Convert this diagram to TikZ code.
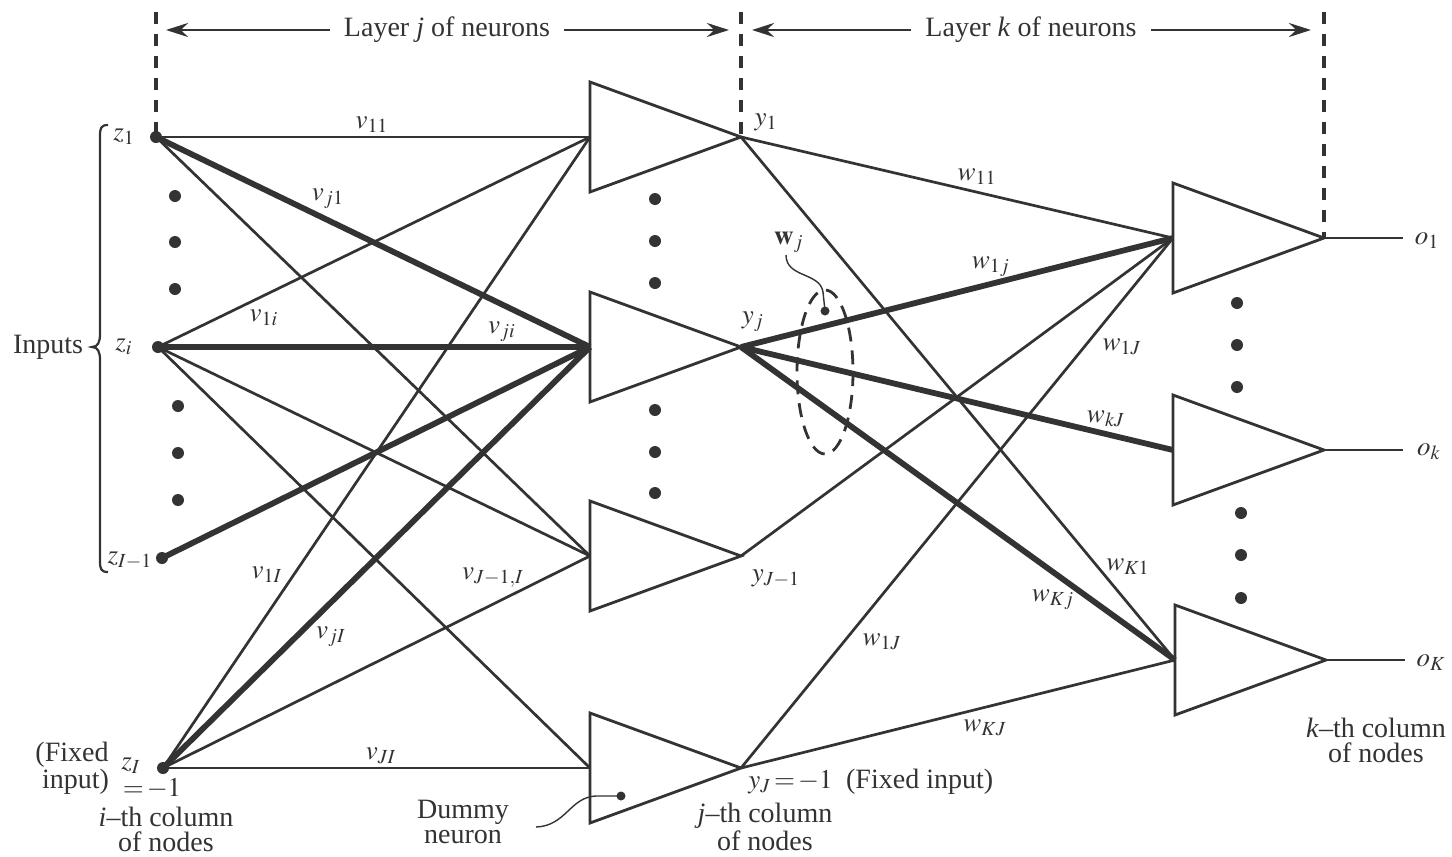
\documentclass[tikz,border=0pt]{standalone}
\usepackage{mathptmx}
\usepackage{fontspec}
\setmainfont{Liberation Serif}
\usetikzlibrary{arrows.meta}
\definecolor{ink}{HTML}{333333}

\begin{document}
\begin{tikzpicture}[x=0.5pt,y=-0.5pt,
  txt/.style={text=ink,font=\fontsize{14}{12.5}\selectfont,inner sep=1pt,align=center},
  lab/.style={text=ink,font=\fontsize{13.5}{14}\selectfont,inner sep=0pt},
  link/.style={draw=ink,line width=1.35pt},
  heavy/.style={draw=ink,line width=2.9pt},
  tri/.style={draw=ink,line width=1.4pt,line join=miter},
  guide/.style={draw=ink,line width=1.6pt,dash pattern=on 6pt off 5pt},
  ring/.style={draw=ink,line width=1.4pt,dash pattern=on 7pt off 4.5pt},
  span/.style={draw=ink,line width=1.2pt,-{Stealth[length=11pt,width=7pt]}},
  blob/.style={circle,fill=ink,inner sep=0pt,minimum size=6pt},
  pip/.style={circle,fill=ink,inner sep=0pt,minimum size=4.5pt},
  leader/.style={draw=ink,line width=0.7pt},
]
\useasboundingbox (0,0) rectangle (1452,857);
\fill[white] (0,0) rectangle (1452,857);

% ---- neurons (triangles): input point Xi, output tip Xo
\foreach \n/\x/\y in {T1/590/137,T2/590/347,T3/590/556,T4/590/768,K1/1173/238,K2/1173/450,K3/1175/660}{
  \coordinate (\n i) at (\x,\y);
  \coordinate (\n o) at (\x+151,\y);
  \draw[tri] (\x,\y-55) -- (\x+151,\y) -- (\x,\y+55) -- cycle;
}

% ---- input nodes
\node[blob] (z1) at (156,137) {};
\node[blob] (zi) at (158,347) {};
\node[blob] (zm) at (162,558) {};
\node[blob] (zI) at (163,768) {};

% ---- layer boundaries and spans
\coordinate (g1) at (156,12);
\coordinate (g2) at (741,12);
\coordinate (g3) at (1324,12);
\draw[guide] (g1) -- (z1.center);
\draw[guide] (g2) -- (T1o);
\draw[guide] (g3) -- (K1o);

\node[txt,inner xsep=7pt] (lj) at (447,30) {Layer \textit{j} of neurons};
\coordinate (ljL) at (166,30);
\coordinate (ljR) at (729,30);
\draw[span] (lj) -- (ljL);
\draw[span] (lj) -- (ljR);

\node[txt,inner xsep=7pt] (lk) at (1031,30) {Layer \textit{k} of neurons};
\coordinate (lkL) at (752,30);
\coordinate (lkR) at (1311,30);
\draw[span] (lk) -- (lkL);
\draw[span] (lk) -- (lkR);

% ---- weights v (input -> layer j)
\draw[link]  (z1.center) -- (T1i);
\draw[heavy] (z1.center) -- (T2i);
\draw[link]  (z1.center) -- (T3i);
\draw[link]  (zi.center) -- (T1i);
\draw[heavy] (zi.center) -- (T2i);
\draw[link]  (zi.center) -- (T3i);
\draw[link]  (zi.center) -- (T4i);
\draw[heavy] (zm.center) -- (T2i);
\draw[link]  (zI.center) -- (T1i);
\draw[heavy] (zI.center) -- (T2i);
\draw[link]  (zI.center) -- (T3i);
\draw[link]  (zI.center) -- (T4i);

% ---- weights w (layer j -> layer k)
\draw[link]  (T1o) -- (K1i);
\draw[link]  (T1o) -- (K3i);
\draw[heavy] (T2o) -- (K1i);
\draw[heavy] (T2o) -- (K2i);
\draw[heavy] (T2o) -- (K3i);
\draw[link]  (T3o) -- (K1i);
\draw[link]  (T4o) -- (K1i);
\draw[link]  (T4o) -- (K3i);

% ---- outputs
\coordinate (o1e) at (1403,238);
\coordinate (oke) at (1403,450);
\coordinate (oKe) at (1405,660);
\draw[link] (K1o) -- (o1e);
\draw[link] (K2o) -- (oke);
\draw[link] (K3o) -- (oKe);
\node[lab] (o1) at (1427,241) {$o_1$};
\node[lab] (ok) at (1429,452) {$o_k$};
\node[lab] (oK) at (1431,663) {$o_K$};

% ---- ellipsis dots
\foreach \k/\x/\y in {a/175/196,b/175/242,c/175/289,d/178/406,e/178/453,f/178/500,
                      g/655/199,h/655/241,l/655/283,m/655/410,n/655/452,p/655/493,
                      q/1237/303,r/1237/345,s/1237/387,t/1241/513,u/1241/555,v/1241/598}{
  \node[blob] (dot\k) at (\x,\y) {};
}

% ---- input labels and brace
\node[lab] (lz1) at (124,137) {$z_1$};
\node[lab] (lzi) at (124,347) {$z_i$};
\node[lab] (lzm) at (130,560) {$z_{I-1}$};
\node[lab] (lzI) at (131,766) {$z_I$};
\node[lab] (lzeq) at (152,789) {$=\!-1$};
\node[txt] (fixedI) at (72,768) {(Fixed\\\ input)};
\node[txt] (icol) at (166,829) {\textit{i}–th column\\of nodes};
\node[txt] (inputs) at (48,347) {Inputs};
\draw[ink,line width=1.1pt] (108,125) .. controls (101,125) and (100,128) .. (100,136)
  -- (100,334) .. controls (100,342) and (98,347) .. (92,347)
  .. controls (98,347) and (100,352) .. (100,360)
  -- (100,561) .. controls (100,569) and (101,572) .. (108,572);

% ---- v labels
\node[lab] (v11) at (372,125) {$v_{11}$};
\node[lab] (vj1) at (328,199) {$v_{j1}$};
\node[lab] (v1i) at (264,318) {$v_{1i}$};
\node[lab] (vji) at (502,332) {$v_{ji}$};
\node[lab] (v1I) at (267,575) {$v_{1I}$};
\node[lab] (vjI) at (331,637) {$v_{jI}$};
\node[lab] (vJmI) at (493,578) {$v_{J-1,I}$};
\node[lab] (vJI) at (381,756) {$v_{JI}$};

% ---- layer j outputs
\node[lab] (y1) at (766,122) {$y_1$};
\node[lab] (yj) at (753,322) {$y_j$};
\node[lab] (yJm) at (776,578) {$y_{J-1}$};
\node[lab,anchor=west] (yJ) at (748,782) {$y_J\!=\!-1$\ \ \fontsize{14}{14}\selectfont(Fixed input)};
\node[txt] (jcol) at (765,827) {\textit{j}–th column\\of nodes};

% ---- dummy neuron
\node[pip] (ddot) at (621,796) {};
\node[txt] (dummy) at (463,822) {Dummy\\neuron};
\coordinate (dlead) at (536,827);
\draw[leader] (dlead) .. controls (566,826) and (570,797) .. (596,796) -- (ddot.center);

% ---- w labels
\node[lab] (w11) at (977,177) {$w_{11}$};
\node[lab] (w1j) at (991,267) {$w_{1j}$};
\node[lab] (w1Ja) at (1122,347) {$w_{1J}$};
\node[lab] (wkJ) at (1106,419) {$w_{kJ}$};
\node[lab] (wK1) at (1128,567) {$w_{K1}$};
\node[lab] (wKj) at (1053,600) {$w_{Kj}$};
\node[lab] (w1Jb) at (882,642) {$w_{1J}$};
\node[lab] (wKJ) at (985,728) {$w_{KJ}$};

% ---- weight vector of neuron j
\draw[ring] (825,372) ellipse [x radius=28, y radius=82];
\node[pip] (wdot) at (825,311) {};
\node[lab] (wj) at (789,242) {$\mathbf{w}_j$};
\draw[leader] (786,255) .. controls (786,278) and (820,272) .. (823,292) -- (wdot.center);

% ---- k column caption
\node[txt] (kcol) at (1376,740) {\textit{k}–th column\\of nodes};
\end{tikzpicture}
\end{document}
